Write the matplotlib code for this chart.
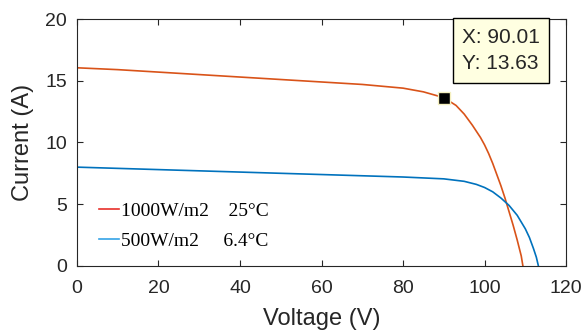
import matplotlib.pyplot as plt
from matplotlib.lines import Line2D

# I-V curves
v_1000 = [0, 10, 20, 30, 40, 50, 60, 70, 80, 85, 90, 93, 95, 97, 99, 100, 101, 102, 103, 104, 105, 106, 107, 108, 109, 109.4]
i_1000 = [16.05, 15.9, 15.7, 15.5, 15.3, 15.1, 14.9, 14.7, 14.4, 14.1, 13.63, 13.0, 12.3, 11.4, 10.4, 9.8, 9.1, 8.3, 7.4, 6.5, 5.5, 4.4, 3.3, 2.1, 0.8, 0.0]
v_500 = [0, 10, 20, 30, 40, 50, 60, 70, 80, 90, 95, 98, 100, 102, 104, 106, 108, 110, 111, 112, 112.7, 113.2]
i_500 = [8.0, 7.9, 7.8, 7.7, 7.6, 7.5, 7.4, 7.3, 7.2, 7.05, 6.85, 6.6, 6.35, 6.0, 5.5, 4.9, 4.1, 3.0, 2.3, 1.4, 0.7, 0.0]

tip_x, tip_y = 90.01, 13.63
legend_labels = ["1000W/m2    25\u00b0C", "500W/m2     6.4\u00b0C"]

plt.rcParams["font.family"] = ["Liberation Sans", "DejaVu Sans"]

fig = plt.figure(figsize=(5.83, 3.34), dpi=100)
ax = fig.add_axes([0.132, 0.204, 0.839, 0.739])

ax.plot(v_1000, i_1000, color="#D95319", lw=1.2)
ax.plot(v_500, i_500, color="#0072BD", lw=1.2)

ax.plot([tip_x], [tip_y], marker="s", ms=8, mfc="black", mec="#f5f0c0", mew=1, zorder=5)
ax.text(
    0.787, 0.965,
    f"X: {tip_x:.2f}\nY: {tip_y:.2f}",
    transform=ax.transAxes,
    ha="left",
    va="top",
    fontsize=15,
    color="#262626",
    linespacing=1.5,
    bbox=dict(boxstyle="square,pad=0.45", fc="#ffffe1", ec="black", lw=1),
    zorder=6,
)

handles = [Line2D([], [], color="#e8302a", lw=1.2), Line2D([], [], color="#35a3e6", lw=1.2)]
ax.legend(
    handles,
    legend_labels,
    loc="lower left",
    bbox_to_anchor=(0.01, -0.005),
    frameon=False,
    prop={"family": "Liberation Serif", "size": 14},
    handlelength=1.0,
    handletextpad=0.1,
    labelspacing=0.62,
)

ax.set_xlim(0, 120)
ax.set_ylim(0, 20)
ax.set_xticks(range(0, 121, 20))
ax.set_yticks(range(0, 21, 5))
ax.tick_params(direction="in", top=True, right=True, labelsize=14, colors="#262626", length=4)
ax.tick_params(axis="x", pad=10)
ax.tick_params(axis="y", pad=7)
for s in ax.spines.values():
    s.set_color("#262626")
ax.set_xlabel("Voltage (V)", fontsize=17, color="#262626", labelpad=8)
ax.set_ylabel("Current (A)", fontsize=17, color="#262626", labelpad=8)

fig.savefig("out.png", dpi=100)
